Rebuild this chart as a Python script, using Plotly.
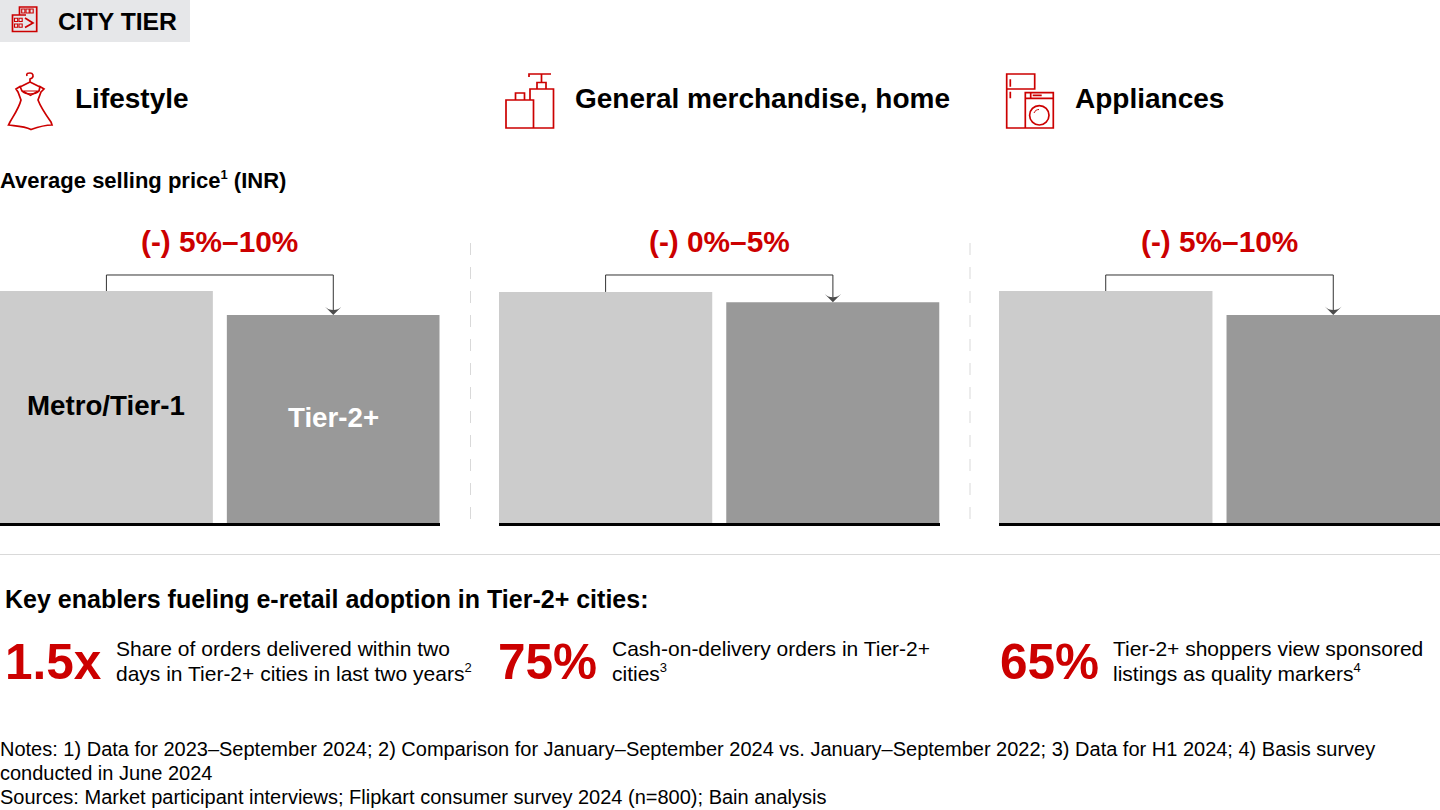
import plotly.graph_objs as go

categories = ['Metro/Tier-1', 'Tier-2+']
panel_names = ['Lifestyle', 'General merchandise, home', 'Appliances']
metro_values = [100, 99.6, 100]
tier2_values = [89.7, 95.2, 89.7]
change_labels = ['(-) 5%–10%', '(-) 0%–5%', '(-) 5%–10%']
bar_colors = ['#cccccc', '#999999']
enabler_numbers = ['1.5x', '75%', '65%']
enabler_line1 = ['Share of orders delivered within two', 'Cash-on-delivery orders in Tier-2+', 'Tier-2+ shoppers view sponsored']
enabler_line2 = ['days in Tier-2+ cities in last two years', 'cities', 'listings as quality markers']
enabler_refs = ['2', '3', '4']
notes = [
    'Notes: 1) Data for 2023–September 2024; 2) Comparison for January–September 2024 vs. January–September 2022; 3) Data for H1 2024; 4) Basis survey',
    'conducted in June 2024',
    'Sources: Market participant interviews; Flipkart consumer survey 2024 (n=800); Bain analysis'
]

RED = '#cc0000'
FONT = 'Liberation Sans'
connector_level = 106.9

fig = go.Figure()

# one group of bars per panel
for i in range(3):
    suffix = '' if i == 0 else str(i + 1)
    values = [metro_values[i], tier2_values[i]]
    fig.add_trace(go.Bar(
        x=[0, 1],
        y=values,
        marker=dict(color=bar_colors, line=dict(width=0)),
        xaxis='x' + suffix,
        yaxis='y' + suffix,
        showlegend=False
    ))
    fig.add_trace(go.Scatter(
        x=[0, 0, 1, 1],
        y=[values[0], connector_level, connector_level, values[1]],
        mode='lines+markers',
        line=dict(color='#333333', width=1),
        marker=dict(symbol='arrow-wide', size=[0, 0, 0, 12], angleref='previous', color='#000000', line=dict(width=0)),
        xaxis='x' + suffix,
        yaxis='y' + suffix,
        showlegend=False
    ))

fig.update_layout(
    width=1440,
    height=810,
    margin=dict(l=0, r=0, t=0, b=0),
    plot_bgcolor='rgba(0,0,0,0)',
    paper_bgcolor='white',
    bargap=0.0617,
    font=dict(family=FONT, color='#000000'),
    hovermode=False
)

bar_domains = [[0, 439.7 / 1440], [499 / 1440, 939.5 / 1440], [999 / 1440, 1]]
for i in range(3):
    suffix = '' if i == 0 else str(i + 1)
    fig.update_layout({
        'xaxis' + suffix: dict(
            domain=bar_domains[i], range=[-0.469, 1.469], anchor='y' + suffix,
            showgrid=False, zeroline=False, showticklabels=False, ticks='',
            showline=True, linecolor='#000000', linewidth=2.5
        ),
        'yaxis' + suffix: dict(
            domain=[287 / 810, 540 / 810], range=[0, 109.05], anchor='x' + suffix,
            showgrid=False, zeroline=False, showticklabels=False, ticks=''
        )
    })

# pixel canvas for the header, icons and texts
fig.update_layout(
    xaxis4=dict(domain=[0, 1], range=[0, 1440], visible=False, anchor='y4'),
    yaxis4=dict(domain=[0, 1], range=[810, 0], visible=False, anchor='x4')
)


def add_text(x, y, text, size, bold=False, color='#000000', anchor='left'):
    fig.add_annotation(
        x=x, y=y, xref='x4', yref='y4', text='<b>' + text + '</b>' if bold else text,
        showarrow=False, xanchor=anchor, yanchor='middle', align=anchor,
        borderpad=0, borderwidth=0,
        font=dict(family=FONT, size=size, color=color)
    )


def add_path(path, width=1.7, color=RED, fill=None):
    fig.add_shape(
        type='path', path=path, xref='x4', yref='y4', layer='above',
        line=dict(color=color, width=width), fillcolor=fill
    )


def add_box(x0, x1, y0, y1):
    fig.add_shape(type='rect', x0=x0, x1=x1, y0=y0, y1=y1, xref='x4', yref='y4',
                  line=dict(color=RED, width=1.1))


def small_ref(number):
    return '<sup><span style="font-size:13px">' + number + '</span></sup>'


fig.add_shape(type='rect', x0=0, x1=190, y0=0, y1=42, xref='x4', yref='y4', layer='below',
              fillcolor='#e6e7e9', line=dict(width=0))
fig.add_shape(type='line', x0=0, x1=1440, y0=554.5, y1=554.5, xref='x4', yref='y4',
              line=dict(color='#d9d9d9', width=1))
for sep in [470.5, 970]:
    fig.add_shape(type='line', x0=sep, x1=sep, y0=243, y1=520, xref='x4', yref='y4',
                  line=dict(color='#d9d9d9', width=1, dash='12px,12px'))

# header icon
add_path('M19.5,15 V7 H36.7 V31.5 H12.5 V15 H26 M25,18 L33,23 L25,27.5')
for bx in [21.7, 26, 30]:
    add_box(bx, bx + 3.2, 9, 13)
for bx in [14.5, 19]:
    for by in [18.3, 24]:
        add_box(bx, bx + 3.2, by, by + 3.2)

# dress icon
add_path('M27,76 C26,73 28,73 30,73 C33,73 34,76 32,78 L30,79 V82 L20,87 M30,82 L40,87')
add_path('M16,89 L20,86.5 L22,91 C26,95 35,95 39,91 L40,86.5 L44,89 L41,92 L38,100 C41,108 46,115 51,122 L52,125 C44,125 38,127 31,129.5 C24,126 16,126 8.5,125 L10,122 C14,115 19,108 21,100 L18,92 Z')
add_path('M23,91 H38 L30.5,95.5 Z', width=1.2)

# bottles icon
add_path('M506,100 H533.5 V128 H506 Z M530,100 V89 H553.5 V128 H533.5 M515.5,100 V93 H524.5 V100 M537,89 V82.5 H546 V89 M541.5,82.5 V74 M529,77 V74 H551')

# appliances icon
add_path('M1006.7,74 H1034.7 V89 H1006.7 Z M1006.7,89 V128 H1025.3 M1025.3,92.7 H1053.3 V128 H1025.3 Z M1025.3,98.3 H1053.3 M1030.7,92.7 V98.3 M1032.7,95.4 H1041.7 M1010.3,79.3 V86.7 M1010.3,91.7 V98.3')
fig.add_shape(type='circle', x0=1029.6, x1=1049, y0=105.6, y1=125, xref='x4', yref='y4',
              line=dict(color=RED, width=1.7))
add_path('M1034,113 C1035,110.5 1037,109.5 1039,109.5', width=1)

add_text(57.5, 21, 'CITY TIER', 24.7, bold=True)
for i, x in enumerate([75, 575, 1075]):
    add_text(x, 98.5, panel_names[i], 28, bold=True)
add_text(0, 179.5, 'Average selling price' + small_ref('1') + ' (INR)', 22, bold=True)

# bar labels, first panel only
add_text(106, 405, categories[0], 27.7, bold=True, anchor='center')
add_text(333.5, 417, categories[1], 27.7, bold=True, color='#ffffff', anchor='center')

for i, x in enumerate([219.5, 719.5, 1219.5]):
    add_text(x, 241, change_labels[i], 29.8, bold=True, color=RED, anchor='center')

add_text(5, 598.5, 'Key enablers fueling e-retail adoption in Tier-2+ cities:', 25, bold=True)

for i, x in enumerate([5, 498, 1000]):
    add_text(x, 661, enabler_numbers[i], 49.5, bold=True, color=RED)
for i, x in enumerate([116, 612, 1113]):
    add_text(x, 648, enabler_line1[i], 21)
    add_text(x, 672.5, enabler_line2[i] + small_ref(enabler_refs[i]), 21)

for i, y in enumerate([749, 773, 797]):
    add_text(0, y, notes[i], 20)

fig.write_html("out.html", config=dict(displayModeBar=False), post_script="document.body.style.margin='0';")
